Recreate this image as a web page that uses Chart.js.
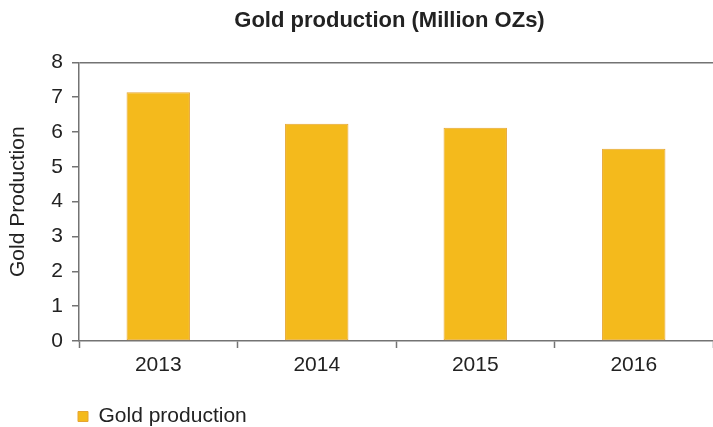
<!DOCTYPE html>
<html lang="en">
<head>
    <meta charset="UTF-8">
    <title>Gold production</title>
    <script src="https://cdn.jsdelivr.net/npm/chart.js"></script>
    <style>
        html, body { margin: 0; padding: 0; background: #fff; }
        #grafico { display: block; }
    </style>
</head>
<body>
    <canvas id="grafico" width="713" height="427"></canvas>

    <script>
        // data
        const anos = ['2013', '2014', '2015', '2016'];
        const producao = [7.14, 6.24, 6.12, 5.52];
        const yTicks = [0, 1, 2, 3, 4, 5, 6, 7, 8];

        const fonte = 'Liberation Sans, Arial, Helvetica, sans-serif';
        const corEixo = '#737373';

        // line legend up with the plot and center the title over it, like the original
        const ajustarBlocos = {
            id: 'ajustarBlocos',
            afterLayout(chart) {
                chart.legend.left = 76;
                chart.legend.adjustHitBoxes();
                chart.titleBlock.left = 66;
            }
        };

        const configuracoes = {
            type: 'bar',
            data: {
                labels: anos,
                datasets: [{
                    label: 'Gold production',
                    data: producao,
                    backgroundColor: '#F4BA1C',
                    borderColor: '#E6A532',
                    borderWidth: 1,
                    borderSkipped: false,
                    categoryPercentage: 1,
                    barPercentage: 0.4
                }]
            },
            options: {
                responsive: false,
                animation: false,
                layout: { padding: { top: 0, left: 0, right: 0, bottom: -10 } },
                plugins: {
                    title: {
                        display: true,
                        text: 'Gold production (Million OZs)',
                        color: '#222',
                        font: { family: fonte, size: 22, weight: 'bold' },
                        padding: { top: 8, bottom: 28 }
                    },
                    legend: {
                        position: 'bottom',
                        align: 'start',
                        labels: {
                            boxWidth: 10,
                            boxHeight: 10,
                            padding: 2,
                            color: '#222',
                            font: { family: fonte, size: 21 }
                        }
                    },
                    tooltip: { enabled: false }
                },
                scales: {
                    x: {
                        afterFit(scale) { scale.height = 63; },
                        grid: {
                            offset: true,
                            drawOnChartArea: false,
                            tickLength: 7,
                            tickColor: corEixo,
                            tickWidth: 1.5
                        },
                        border: { color: corEixo, width: 1.5 },
                        ticks: {
                            color: '#222',
                            padding: 5,
                            font: { family: fonte, size: 21 }
                        }
                    },
                    y: {
                        min: 0,
                        max: 8,
                        afterFit(scale) { scale.width = 79; },
                        afterBuildTicks(scale) {
                            scale.ticks = yTicks.map(v => ({ value: v }));
                        },
                        title: {
                            display: true,
                            text: 'Gold Production',
                            color: '#222',
                            font: { family: fonte, size: 21 },
                            padding: { top: 6, bottom: 0 }
                        },
                        grid: {
                            color: ctx => ctx.tick && ctx.tick.value === 8 ? corEixo : 'transparent',
                            lineWidth: 1.5,
                            tickLength: 7,
                            tickColor: corEixo,
                            tickWidth: 1.5
                        },
                        border: { color: corEixo, width: 1.5 },
                        ticks: {
                            color: '#222',
                            padding: 9,
                            font: { family: fonte, size: 21 }
                        }
                    }
                }
            },
            plugins: [ajustarBlocos]
        };

        const graficoCtx = document.getElementById('grafico').getContext('2d');
        const meuGrafico = new Chart(graficoCtx, configuracoes);
    </script>
</body>
</html>
